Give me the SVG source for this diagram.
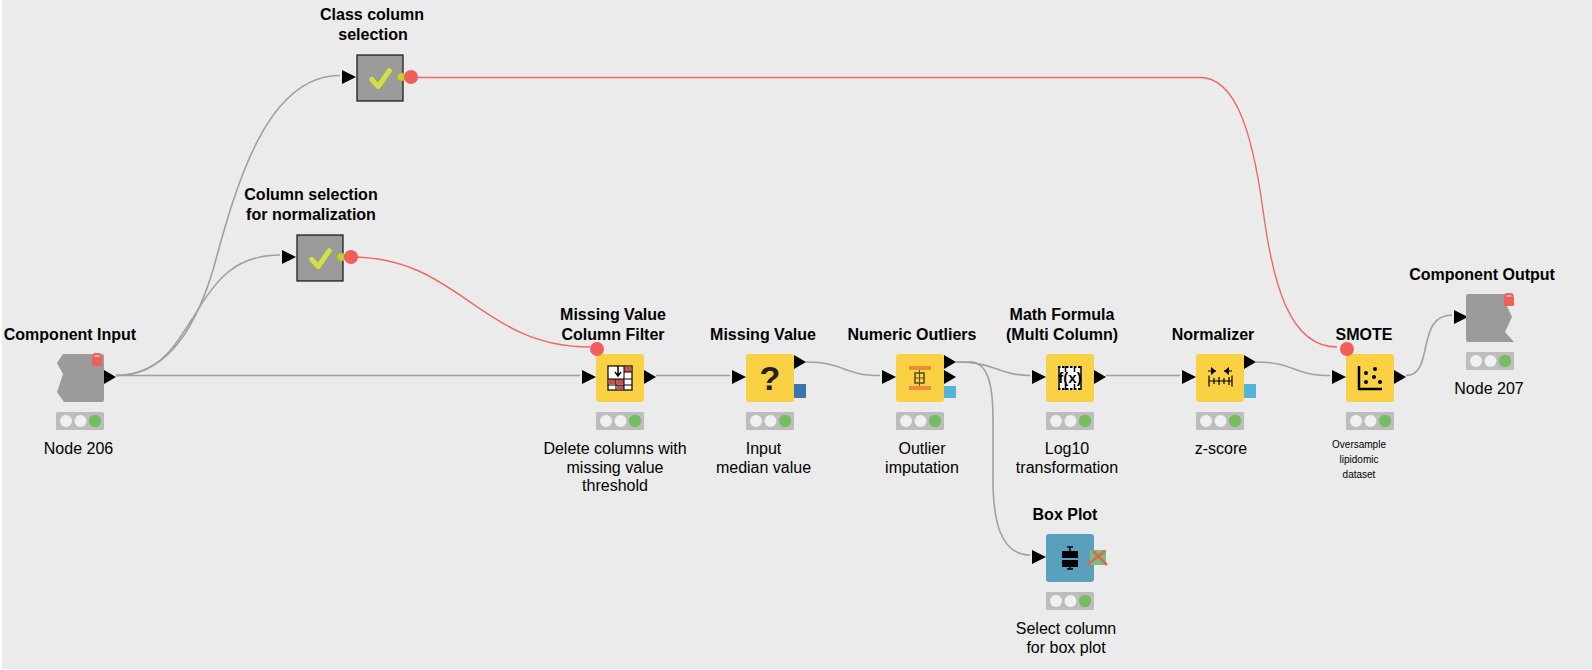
<svg xmlns="http://www.w3.org/2000/svg" width="1592" height="670" viewBox="0 0 1592 670">
<style>
text{font-family:"Liberation Sans",Arial,sans-serif;fill:#000;text-anchor:middle}
.t{font-size:16px;font-weight:700}
.d{font-size:16px}
.s{font-size:10px}
.c{fill:none;stroke:#a0a0a0;stroke-width:1.6}
.r{fill:none;stroke:#ee6a64;stroke-width:1.4}
.y{fill:#f9d143}
.g{fill:#9b9b9b}
.fv{fill:#f15f59}
.k{fill:#000}
.ln{fill:none;stroke:#000}
</style>
<defs>
<path id="pi" d="M0-7L14 0L0 7Z" fill="#000"/>
<path id="po" d="M0-7L12 0L0 7Z" fill="#000"/>
<g id="tl"><rect x="0" y="0" width="48" height="18" rx="1.5" fill="#bdbdbd"/><circle cx="10" cy="9" r="6" fill="#f0f0f0"/><circle cx="24.500" cy="9" r="6" fill="#f0f0f0"/><circle cx="39" cy="9" r="6.200" fill="#74bd62"/></g>
<g id="ck"><rect x="0" y="0" width="46" height="46" fill="#9b9b9b" stroke="#111" stroke-width="1.2"/><path d="M14.700 24.300L21.300 31.700L32.300 15.700" fill="none" stroke="#d3e13e" stroke-width="5" stroke-linecap="round" stroke-linejoin="round"/><circle cx="44" cy="22" r="4.200" fill="#c0cf38" stroke="#9aa83c" stroke-width="1"/></g>
<g id="lk"><rect x="-3.500" y="-6" width="7" height="6" rx="1.500" fill="#bbb" stroke="#f15f59" stroke-width="2"/><rect x="-5" y="-3" width="10" height="9" rx="1" fill="#f15f59"/></g>
</defs>
<rect width="1592" height="670" fill="#fff"/>
<rect x="2" y="0" width="1590" height="669" fill="#ebebeb"/>
<g id="connectors">
<path class="c" d="M116 375.500C165 375.500 195 330 213 270C235 190 265 75.500 340 75.500"/>
<path class="c" d="M116 375.500C165 375.500 180 335 193 318C215 280 235 255 280 255"/>
<path class="c" d="M116 375.500H580"/>
<path class="c" d="M656 375.500H730"/>
<path class="c" d="M806 362C845 362 843 375.500 880 375.500"/>
<path class="c" d="M956 362C995 362 1000 375.500 1030 375.500"/>
<path class="c" d="M956 362H972C988 364 993 385 993 420V470C992 520 1000 555 1030 555"/>
<path class="c" d="M1106 375.500H1180"/>
<path class="c" d="M1256 362C1295 362 1293 375.500 1330 375.500"/>
<path class="c" d="M1406 375.500C1435 375.500 1415 315 1452 315"/>
<path class="r" d="M411 77.500H1200C1235 77.500 1252 130 1263 210C1273 285 1290 347 1337 347"/>
<path class="r" d="M351 257C460 257 480 347 590 347"/>
</g>
<g id="node-class-column-selection">
<text class="t" x="372" y="20">Class column</text><text class="t" x="373" y="40">selection</text>
<use href="#pi" x="342" y="77"/><use href="#ck" x="357" y="55"/><circle cx="411" cy="77" r="7" class="fv"/>
</g>
<g id="node-column-selection">
<text class="t" x="311" y="200">Column selection</text><text class="t" x="311" y="220">for normalization</text>
<use href="#pi" x="282" y="257"/><use href="#ck" x="297" y="235"/><circle cx="351" cy="257" r="7" class="fv"/>
</g>
<g id="node-206">
<text class="t" x="70" y="340">Component Input</text>
<path class="g" d="M63 354H102a2 2 0 0 1 2 2V400a2 2 0 0 1-2 2H64L57 392L63 374L57 363Z"/>
<use href="#lk" x="97" y="360"/>
<use href="#po" x="104" y="377"/>
<use href="#tl" x="56" y="412"/>
<text class="d" x="78.500" y="454">Node 206</text>
</g>
<g id="node-missing-value-filter">
<text class="t" x="613" y="320">Missing Value</text><text class="t" x="613" y="340">Column Filter</text>
<use href="#pi" x="582" y="377"/>
<rect class="y" x="596" y="354" width="48" height="48" rx="3"/>
<circle cx="597" cy="349" r="7" class="fv"/>
<g transform="translate(608 366)"><rect x="0" y="0" width="24" height="24" fill="#fff" stroke="#000" stroke-width="1.200"/><rect x="16" y="1" width="7" height="5" fill="#cf4d4a"/><rect x="1" y="13" width="7" height="5" fill="#cf4d4a"/><rect x="9" y="13" width="7" height="5" fill="#cf4d4a"/><rect x="9" y="19" width="7" height="4" fill="#cf4d4a"/><path class="ln" d="M0 13H24M0 19H24M8 13V24M16 0V24M16 6H24" stroke-width="1"/><path class="ln" d="M10 0V9M7 6L10 10L13 6" stroke-width="1.500"/></g>
<use href="#po" x="644" y="377"/>
<use href="#tl" x="596" y="412"/>
<text class="d" x="615" y="454">Delete columns with</text><text class="d" x="615" y="472.500">missing value</text><text class="d" x="615" y="491">threshold</text>
</g>
<g id="node-missing-value">
<text class="t" x="763" y="340">Missing Value</text>
<use href="#pi" x="732" y="377"/>
<rect class="y" x="746" y="354" width="48" height="48" rx="3"/>
<text x="770" y="390" style="font-size:34px;font-weight:700;fill:#222">?</text>
<use href="#po" x="794" y="362"/>
<rect x="794" y="384" width="12" height="14" fill="#3a75b0"/>
<use href="#tl" x="746" y="412"/>
<text class="d" x="763.500" y="454">Input</text><text class="d" x="763.500" y="472.500">median value</text>
</g>
<g id="node-numeric-outliers">
<text class="t" x="912" y="340">Numeric Outliers</text>
<use href="#pi" x="882" y="377"/>
<rect class="y" x="896" y="354" width="48" height="48" rx="3"/>
<rect x="909" y="366" width="22" height="4" fill="#f08c37"/><rect x="909" y="386" width="22" height="4" fill="#f08c37"/>
<rect x="915" y="373" width="9" height="10" fill="none" stroke="#5b4b1f" stroke-width="1.500"/><path d="M919.500 370V386M915 378H924" stroke="#5b4b1f" fill="none"/>
<use href="#po" x="944" y="362"/><use href="#po" x="944" y="377"/>
<rect x="944" y="386" width="12" height="12" fill="#54b4da"/>
<use href="#tl" x="896" y="412"/>
<text class="d" x="922" y="454">Outlier</text><text class="d" x="922" y="472.500">imputation</text>
</g>
<g id="node-math-formula">
<text class="t" x="1062" y="320">Math Formula</text><text class="t" x="1062" y="340">(Multi Column)</text>
<use href="#pi" x="1032" y="377"/>
<rect class="y" x="1046" y="354" width="48" height="48" rx="3"/>
<rect x="1058" y="366" width="24" height="24" fill="#fff"/>
<path class="ln" d="M1058 367H1082M1058 389H1082" stroke-width="2" stroke-dasharray="2.500 1.500"/>
<path class="ln" d="M1059 366V390M1065.500 366V372M1065.500 384V390M1074.500 366V372M1074.500 384V390M1081 366V390" stroke-width="1.500"/>
<text x="1070" y="383" style="font-size:15px;font-weight:700">f(x)</text>
<use href="#po" x="1094" y="377"/>
<use href="#tl" x="1046" y="412"/>
<text class="d" x="1067" y="454">Log10</text><text class="d" x="1067" y="472.500">transformation</text>
</g>
<g id="node-normalizer">
<text class="t" x="1213" y="340">Normalizer</text>
<use href="#pi" x="1182" y="377"/>
<rect class="y" x="1196" y="354" width="48" height="48" rx="3"/>
<path class="ln" d="M1209 381H1232M1209 375.500V386.500M1214 378V384M1219 377V385M1224 378V384M1229 377V385M1232 375.500V386.500M1208 371H1216M1224 371H1232" stroke-width="1.200"/>
<path class="k" d="M1211 367L1216 371L1211 375ZM1229 367L1224 371L1229 375Z"/>
<use href="#po" x="1244" y="362"/>
<rect x="1244" y="384" width="12" height="14" fill="#54b4da"/>
<use href="#tl" x="1196" y="412"/>
<text class="d" x="1221" y="454">z-score</text>
</g>
<g id="node-smote">
<text class="t" x="1364" y="340">SMOTE</text>
<use href="#pi" x="1332" y="377"/>
<rect class="y" x="1346" y="354" width="48" height="48" rx="3"/>
<circle cx="1347" cy="349" r="7" class="fv"/>
<path class="ln" d="M1359 366V389H1382" stroke-width="2.500"/>
<circle cx="1366" cy="373" r="2" class="k"/><circle cx="1375" cy="369" r="2" class="k"/><circle cx="1366" cy="382" r="2" class="k"/><circle cx="1374" cy="377" r="2" class="k"/><circle cx="1380" cy="382" r="2" class="k"/>
<use href="#po" x="1394" y="377"/>
<use href="#tl" x="1346" y="412"/>
<text class="s" x="1359" y="448">Oversample</text><text class="s" x="1359" y="463">lipidomic</text><text class="s" x="1359" y="478">dataset</text>
</g>
<g id="node-207">
<text class="t" x="1482" y="280">Component Output</text>
<use href="#pi" x="1454" y="317"/>
<path class="g" d="M1468 294H1506L1507 306L1512 317L1505 332L1514 342H1468a2 2 0 0 1-2-2V296a2 2 0 0 1 2-2Z"/>
<use href="#lk" x="1509" y="300"/>
<use href="#tl" x="1466" y="352"/>
<text class="d" x="1489" y="394">Node 207</text>
</g>
<g id="node-box-plot">
<text class="t" x="1065" y="520">Box Plot</text>
<use href="#pi" x="1032" y="557"/>
<rect x="1046" y="534" width="48" height="48" rx="3" fill="#5b9fbe"/>
<rect x="1090" y="550" width="16" height="15" fill="#7cbf7a"/>
<path d="M1087 565L1105 551M1093 551L1107 565" stroke="#d9675d" stroke-width="2.500" fill="none"/>
<path class="ln" d="M1067 547H1073M1070 547V551M1070 569V567M1067 569H1073" stroke-width="1.500"/><rect x="1062" y="551" width="16" height="7" class="k"/><rect x="1062" y="560" width="16" height="7" class="k"/>
<use href="#tl" x="1046" y="592"/>
<text class="d" x="1066" y="634">Select column</text><text class="d" x="1066" y="652.500">for box plot</text>
</g>
</svg>
